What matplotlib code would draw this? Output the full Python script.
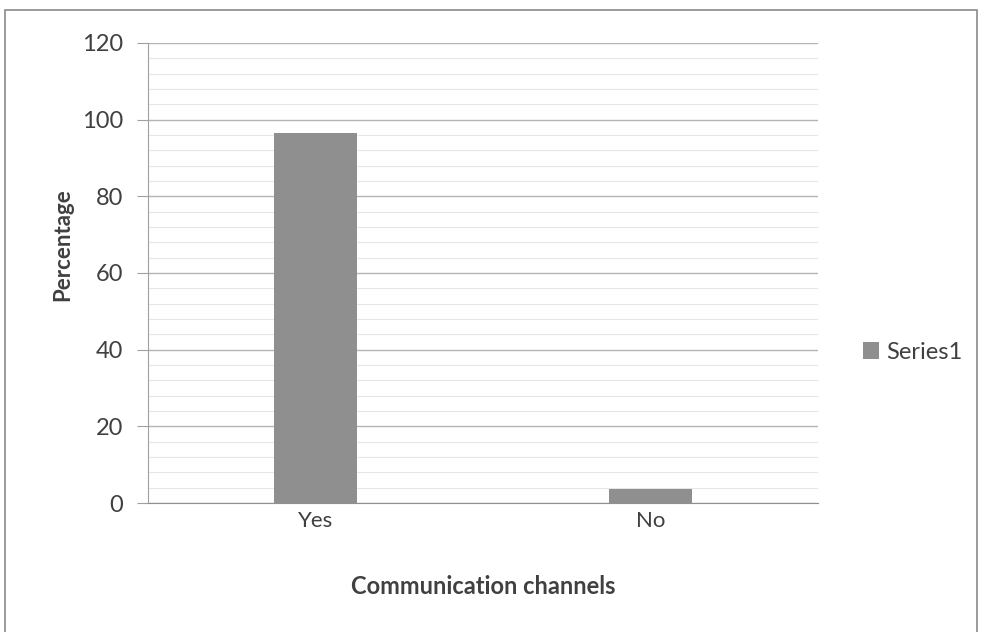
import matplotlib.pyplot as plt
from matplotlib.patches import Rectangle
from matplotlib.ticker import MultipleLocator

categories = ["Yes", "No"]
percentages = [96.4, 3.6]
series_name = "Series1"

plt.rcParams['font.family'] = ['Lato', 'DejaVu Sans']

fig = plt.figure(figsize=(9.82, 6.32), dpi=100)
ax = fig.add_axes([0.1507, 0.2041, 0.6823, 0.728])

# chart border
fig.patches.append(Rectangle((5 / 982, -0.05), 972 / 982, 1.05 - 10 / 632,
                             transform=fig.transFigure, fill=False,
                             edgecolor='#8a8a8a', linewidth=1.2))

x = range(len(categories))
ax.bar(x, percentages, width=0.25, color='#8f8f8f', label=series_name, zorder=3)

ax.set_xlim(-0.5, 1.5)
ax.set_ylim(0, 120)
ax.yaxis.set_major_locator(MultipleLocator(20))
ax.yaxis.set_minor_locator(MultipleLocator(4))
ax.grid(axis='y', which='major', color='#b4b4b4', linewidth=1.0, zorder=0)
ax.grid(axis='y', which='minor', color='#e6e6e6', linewidth=0.8, zorder=0)

ax.set_xticks(list(x))
ax.set_xticklabels(categories, fontsize=16, color='#404040')
ax.tick_params(axis='y', labelsize=17, colors='#404040', length=8, pad=10,
               color='#a0a0a0', which='major')
ax.tick_params(axis='y', which='minor', length=0)
ax.tick_params(axis='x', length=0, pad=6)

for side in ['top', 'right']:
    ax.spines[side].set_visible(False)
ax.spines['left'].set_color('#a0a0a0')
ax.spines['bottom'].set_color('#909090')

ax.set_xlabel("Communication channels", fontsize=17, fontweight='bold',
              color='#404040')
ax.xaxis.set_label_coords(0.5, -0.157)
ax.set_ylabel("Percentage", fontsize=16, fontweight='bold', color='#404040')
ax.yaxis.set_label_coords(-0.112, 0.561)

ax.legend(loc='center left', bbox_to_anchor=(1.035, 0.328), frameon=False,
          fontsize=17, handlelength=0.7, handleheight=0.7, handletextpad=0.3,
          labelcolor='#404040')

fig.savefig('out.png', dpi=100)
